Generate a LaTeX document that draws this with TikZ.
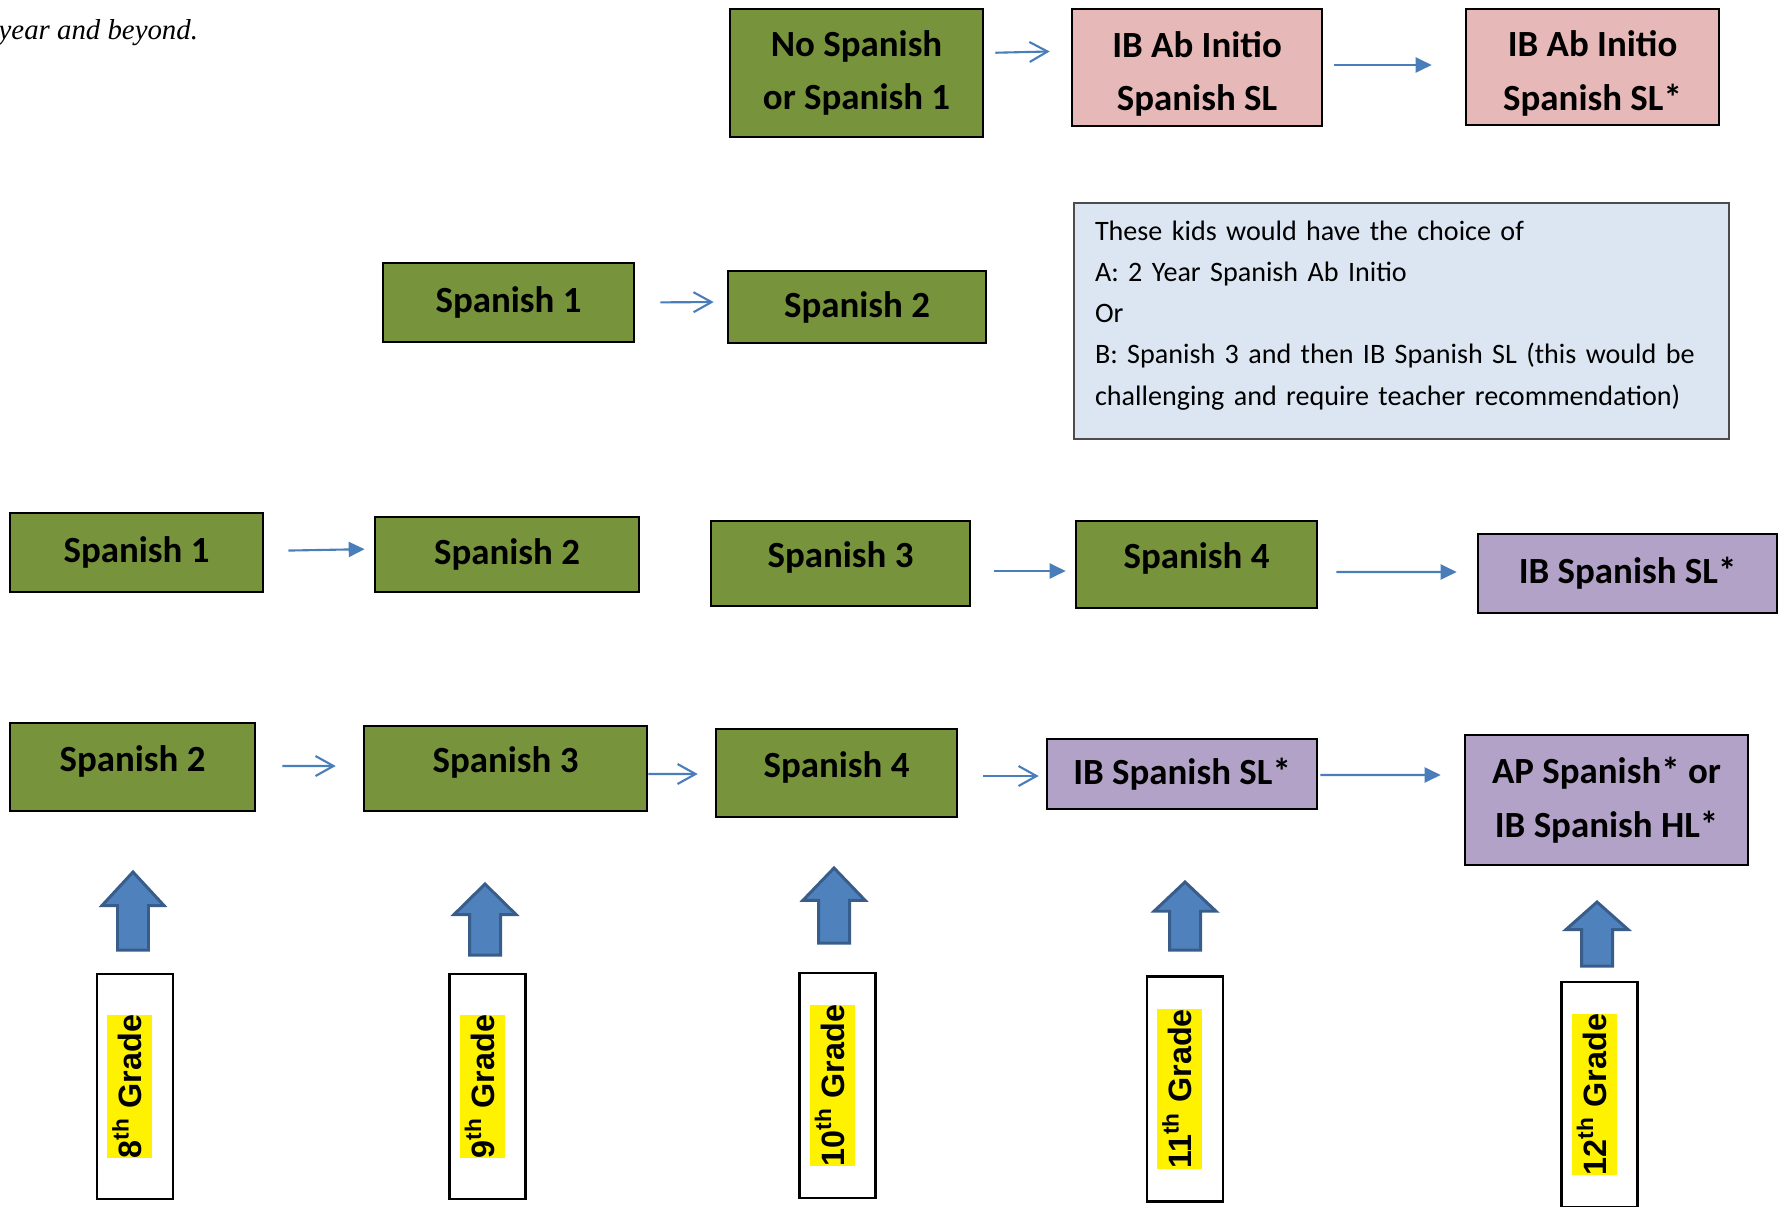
\documentclass[tikz,border=0pt]{standalone}
\usepackage{fontspec}
\setmainfont{Carlito}
\newfontfamily\gradefont{Liberation Sans}
\newfontfamily\introfont{Liberation Serif}
\usetikzlibrary{arrows.meta}
\definecolor{olivebox}{HTML}{77933C}
\definecolor{pinkbox}{HTML}{E6B9B8}
\definecolor{lilacbox}{HTML}{B3A2C7}
\definecolor{notefill}{HTML}{DCE6F2}
\definecolor{linkblue}{HTML}{4A7EBB}
\definecolor{blockfill}{HTML}{4F81BD}
\definecolor{blockedge}{HTML}{385D8A}
\setlength{\fboxsep}{0pt}

\begin{document}
\begin{tikzpicture}[x=0.1mm, y=-0.1mm,
  course/.style={draw, rectangle, line width=0.75pt, align=center, inner sep=0pt,
    font=\fontsize{10.5}{15.2}\selectfont\bfseries},
  early/.style={course, fill=olivebox},
  lifted/.style={text height=2.6mm, text depth=1.8mm},
  abinitio/.style={course, fill=pinkbox},
  ibbox/.style={course, fill=lilacbox},
  openarrow/.style={linkblue, line width=0.6pt, -{Straight Barb[length=1.8mm, width=2mm]}},
  fullarrow/.style={linkblue, line width=0.6pt, -{Triangle[length=1.6mm, width=1.5mm]}},
  gradebox/.style={draw, line width=0.6pt, rotate=90, minimum width=22.5mm, minimum height=7.6mm,
    inner sep=0pt, text depth=2.1mm, font=\gradefont\fontsize{9.2}{11}\selectfont\bfseries},
  blockup/.style={fill=blockfill, draw=blockedge, line width=0.85pt, line join=miter}]
\clip (0,0) rectangle (1786,1206);

% Intro text (cut off)
\node[anchor=base west, inner sep=0pt, font=\introfont\itshape\fontsize{8.2}{10}\selectfont] (intro) at (-2,40) {year and beyond.};

% Top row: Ab Initio path
\node[early, minimum width=25.3mm, minimum height=12.8mm] (none) at (856.5,73) {No Spanish\\or Spanish 1};
\node[abinitio, minimum width=25mm, minimum height=11.7mm] (abi) at (1197,67.5) {\rule{0pt}{3.9mm}IB Ab Initio\\Spanish SL};
\node[abinitio, minimum width=25.3mm, minimum height=11.6mm] (abis) at (1592.5,67) {\rule{0pt}{3.9mm}IB Ab Initio\\Spanish SL*};

% Second row
\node[early, minimum width=25.1mm, minimum height=7.9mm] (bsp1) at (508.5,302.5) {Spanish 1};
\node[early, minimum width=25.8mm, minimum height=7.2mm] (bsp2) at (857,307) {Spanish 2};

% Note box
\node[draw=black!70, line width=0.5pt, fill=notefill, minimum width=65.5mm, minimum height=23.6mm,
  text width=61.3mm, inner xsep=2.1mm, align=left, font=\fontsize{8}{11.7}\selectfont] (note) at (1401.5,321)
{These kids would have the choice of\\A: 2 Year Spanish Ab Initio\\Or\\B: Spanish 3 and then IB Spanish SL (this would be\\challenging and require teacher recommendation)\rule[-1.6mm]{0pt}{0pt}};

% Third row
\node[early, minimum width=25.3mm, minimum height=7.9mm] (csp1) at (136.5,552.5) {Spanish 1};
\node[early, minimum width=26.4mm, minimum height=7.5mm] (csp2) at (507,554.5) {Spanish 2};
\node[early, lifted, minimum width=25.9mm, minimum height=8.5mm] (csp3) at (840.5,563.5) {Spanish 3};
\node[early, lifted, minimum width=24.1mm, minimum height=8.7mm] (csp4) at (1196.5,564.5) {Spanish 4};
\node[ibbox, minimum width=29.9mm, minimum height=7.9mm] (cibsl) at (1627.5,573.5) {IB Spanish SL*};

% Fourth row
\node[early, lifted, minimum width=24.5mm, minimum height=8.8mm] (dsp2) at (132.5,767) {Spanish 2};
\node[early, lifted, minimum width=28.3mm, minimum height=8.5mm] (dsp3) at (505.5,768.5) {Spanish 3};
\node[early, lifted, minimum width=24.1mm, minimum height=8.8mm] (dsp4) at (836.5,773) {Spanish 4};
\node[ibbox, minimum width=27mm, minimum height=7mm] (dibsl) at (1182,774) {IB Spanish SL*};
\node[ibbox, minimum width=28.3mm, minimum height=13mm] (dap) at (1606.5,800) {AP Spanish* or\\IB Spanish HL*};

% Grade boxes
\node[gradebox] (g8) at (135,1086.5) {\colorbox{yellow}{\rule[-0.32em]{0pt}{1.4em}8\textsuperscript{th} Grade}};
\node[gradebox] (g9) at (487.5,1086.5) {\colorbox{yellow}{\rule[-0.32em]{0pt}{1.4em}9\textsuperscript{th} Grade}};
\node[gradebox] (g10) at (837.5,1085.5) {\colorbox{yellow}{\rule[-0.32em]{0pt}{1.4em}10\textsuperscript{th} Grade}};
\node[gradebox] (g11) at (1185,1089) {\colorbox{yellow}{\rule[-0.32em]{0pt}{1.4em}11\textsuperscript{th} Grade}};
\node[gradebox] (g12) at (1599.5,1094.5) {\colorbox{yellow}{\rule[-0.32em]{0pt}{1.4em}12\textsuperscript{th} Grade}};

% Block arrows
\foreach \cx/\ty/\by in {133/872/950, 485/884/955, 834/868/943, 1185/882/950, 1597/902/966}{
  \pgfmathsetmacro\hb{\ty+0.43*(\by-\ty)}
  \draw[blockup] (\cx-15.5,\by) -- (\cx-15.5,\hb) -- (\cx-31,\hb) -- (\cx,\ty) -- (\cx+31,\hb)
    -- (\cx+15.5,\hb) -- (\cx+15.5,\by) -- cycle;
}

% Arrows
\draw[openarrow, shorten <=1.1mm, shorten >=2.1mm] ([yshift=2mm]none.east) -- ([yshift=1.65mm]abi.west);
\draw[fullarrow, shorten <=1.1mm, shorten >=3.3mm] ([yshift=0.25mm]abi.east) -- ([yshift=0.2mm]abis.west);
\draw[openarrow, shorten <=2.5mm, shorten >=1.3mm] (bsp1.east) -- ([yshift=0.5mm]bsp2.west);
\draw[fullarrow, shorten <=2.4mm, shorten >=0.9mm] ([yshift=0.15mm]csp1.east) -- ([yshift=0.55mm]csp2.west);
\draw[fullarrow, shorten <=2.3mm, shorten >=0.9mm] ([yshift=-0.75mm]csp3.east) -- ([yshift=-0.65mm]csp4.west);
\draw[fullarrow, shorten <=1.8mm, shorten >=2mm] ([yshift=-0.75mm]csp4.east) -- ([yshift=0.15mm]cibsl.west);
\draw[openarrow, shorten <=2.6mm, shorten >=2.7mm] ([yshift=0.1mm]dsp2.east) -- ([yshift=0.25mm]dsp3.west);
\draw[openarrow, shorten >=1.7mm] ([yshift=-0.55mm]dsp3.east) -- ([yshift=-0.1mm]dsp4.west);
\draw[openarrow, shorten <=2.5mm, shorten >=0.7mm] ([yshift=-0.3mm]dsp4.east) -- ([yshift=-0.2mm]dibsl.west);
\draw[fullarrow, shorten <=0.2mm, shorten >=2.3mm] ([yshift=-0.1mm]dibsl.east) -- ([yshift=2.5mm]dap.west);
\end{tikzpicture}
\end{document}
